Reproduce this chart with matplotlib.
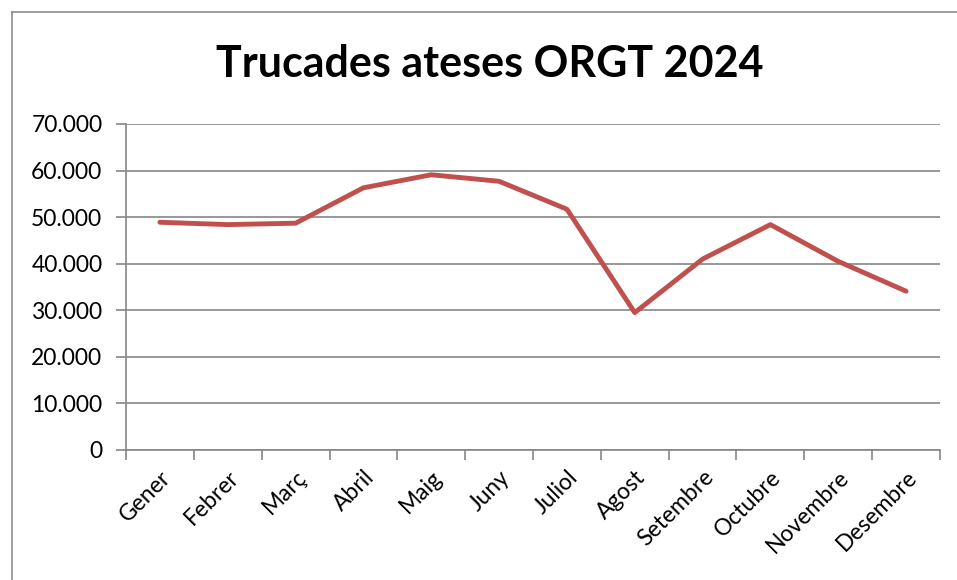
import matplotlib
matplotlib.use("Agg")
import matplotlib.pyplot as plt
from matplotlib.lines import Line2D
from matplotlib.ticker import FuncFormatter, MultipleLocator

months = ["Gener", "Febrer", "Març", "Abril", "Maig", "Juny", "Juliol",
          "Agost", "Setembre", "Octubre", "Novembre", "Desembre"]
calls = [48900, 48400, 48700, 56300, 59100, 57700, 51700,
         29500, 41000, 48400, 40500, 34100]
title = "Trucades ateses ORGT 2024"

plt.rcParams['font.family'] = ['Lato', 'DejaVu Sans']

W, H = 957, 580
fig = plt.figure(figsize=(W / 100, H / 100), dpi=100)
ax = fig.add_axes([126 / W, 1 - 450 / H, (940 - 126) / W, (450 - 124) / H])

x = list(range(len(months)))
ax.plot(x, calls, color="#C0504D", lw=3.5, solid_joinstyle="round", solid_capstyle="round", zorder=3)

ax.set_xlim(-0.5, len(months) - 0.5)
ax.set_ylim(0, 70000)
ax.yaxis.set_major_locator(MultipleLocator(10000))
ax.yaxis.set_major_formatter(FuncFormatter(lambda v, p: f"{int(v):,}".replace(",", ".")))
ax.grid(axis="y", color="#868686", lw=1.2)
ax.set_axisbelow(True)

for s in ["top", "right"]:
    ax.spines[s].set_visible(False)
for s in ["left", "bottom"]:
    ax.spines[s].set_color("#868686")
    ax.spines[s].set_linewidth(1.2)

ax.set_xticks([i - 0.5 for i in range(len(months) + 1)])
ax.set_xticklabels([])
ax.set_xticks(x, minor=True)
ax.set_xticklabels(months, minor=True, rotation=45, ha="right", rotation_mode="anchor", fontsize=16.5)
ax.tick_params(axis="x", which="major", length=7, color="#868686", width=1.2)
ax.tick_params(axis="x", which="minor", length=0, pad=12)
ax.tick_params(axis="y", length=7, color="#868686", width=1.2, labelsize=16.5, pad=10)

fig.text(490 / W, 1 - 64 / H, title, ha="center", va="center", fontsize=31, fontweight="bold")

# outer chart border
fig.add_artist(Line2D([12 / W, 12 / W], [0, 1 - 12 / H], transform=fig.transFigure, color="#8c8c8c", lw=1.2))
fig.add_artist(Line2D([12 / W, 1], [1 - 12 / H, 1 - 12 / H], transform=fig.transFigure, color="#8c8c8c", lw=1.2))

fig.savefig("out.png", dpi=100, facecolor="white")
